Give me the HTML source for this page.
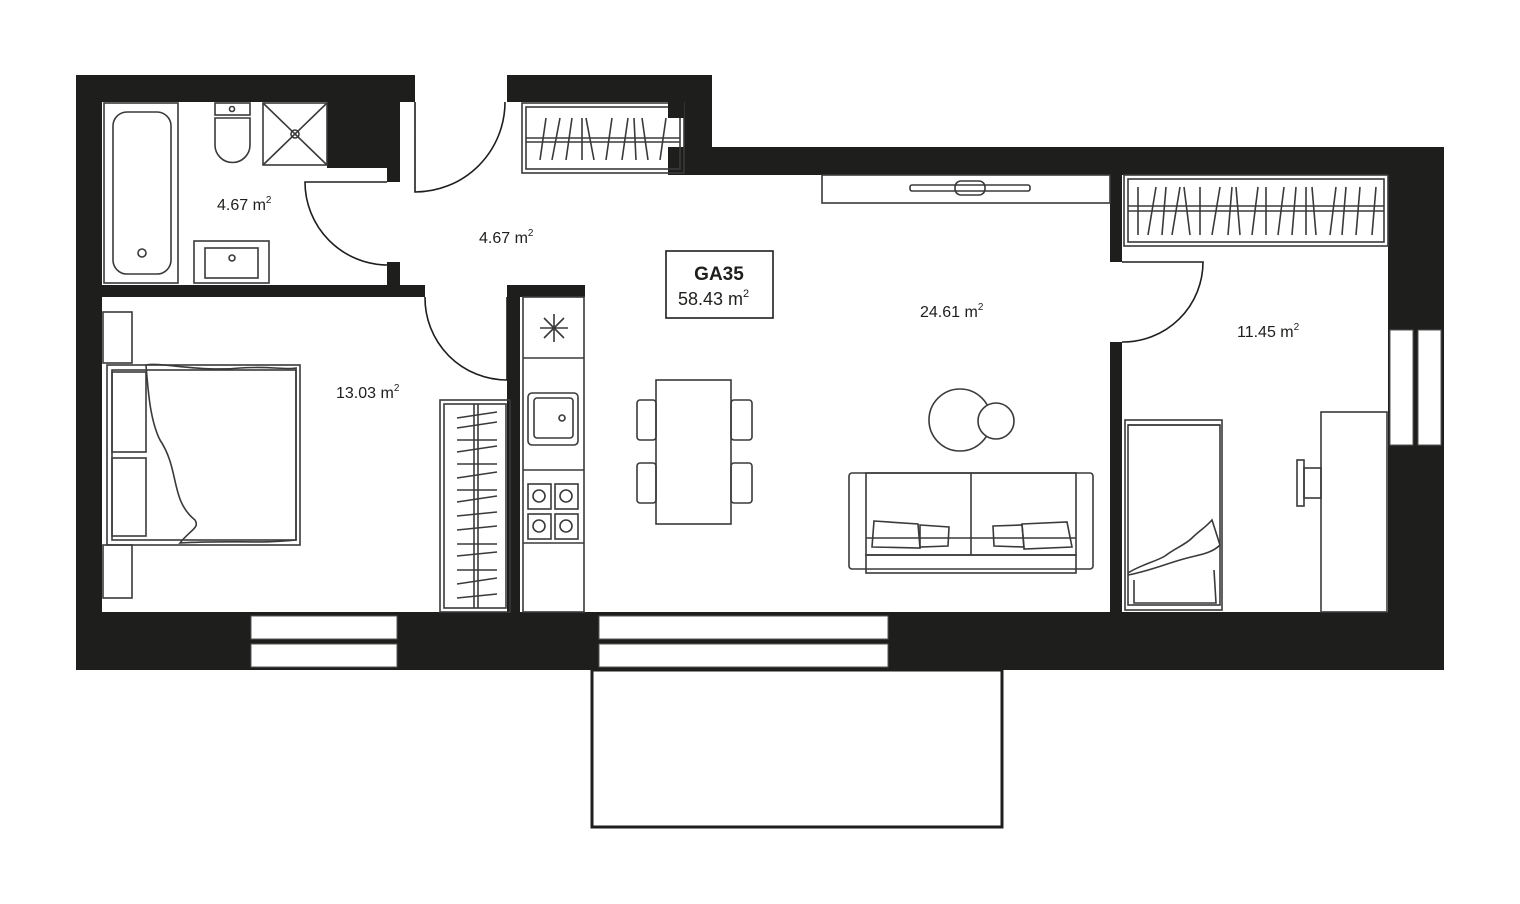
<!DOCTYPE html>
<html><head><meta charset="utf-8"><style>
html,body{margin:0;padding:0;background:#fff;}
svg{display:block;}
text{font-family:"Liberation Sans",sans-serif;fill:#1e1e1c;}
</style></head><body>
<svg width="1520" height="904" viewBox="0 0 1520 904" xmlns="http://www.w3.org/2000/svg">
<rect width="1520" height="904" fill="#fff"/>
<g fill="#1e1e1c">
<rect x="76" y="75" width="339" height="27"/>
<rect x="76" y="75" width="26" height="595"/>
<rect x="327" y="100" width="60" height="68"/>
<rect x="387" y="100" width="13" height="82"/>
<rect x="387" y="262" width="13" height="25"/>
<rect x="100" y="285" width="325" height="12"/>
<rect x="507" y="75" width="205" height="27"/>
<rect x="684" y="75" width="28" height="100"/>
<rect x="668" y="147" width="776" height="28"/>
<rect x="1388" y="147" width="56" height="523"/>
<rect x="507" y="285" width="78" height="12"/>
<rect x="507" y="285" width="13" height="330"/>
<rect x="1110" y="173" width="12" height="89"/>
<rect x="1110" y="342" width="12" height="272"/>
<rect x="76" y="612" width="1368" height="58"/>
</g>
<g fill="#fff" stroke="#555" stroke-width="1">
<rect x="251" y="616" width="146" height="23"/>
<rect x="251" y="644" width="146" height="23"/>
<rect x="599" y="616" width="289" height="23"/>
<rect x="599" y="644" width="289" height="23"/>
<rect x="1390" y="330" width="23" height="115"/>
<rect x="1418" y="330" width="23" height="115"/>
</g>
<rect x="592" y="670" width="410" height="157" fill="none" stroke="#1e1e1c" stroke-width="3"/>
<g fill="none" stroke="#1e1e1c" stroke-width="1.6">
<path d="M415 102 V192 A90 90 0 0 0 505 102"/>
<path d="M387 182 H305 A83 83 0 0 0 387 265"/>
<path d="M507 297 V380 A82 82 0 0 1 425 297"/>
<path d="M1122 262 H1203 A80 80 0 0 1 1122 342"/>
</g>
<g fill="none" stroke="#3a3a3a" stroke-width="1.6">
<rect x="104" y="103" width="74" height="180"/>
<rect x="113" y="112" width="58" height="162" rx="14"/>
<circle cx="142" cy="253" r="4"/>
<rect x="215" y="103" width="35" height="12"/>
<circle cx="232" cy="109" r="2.5"/>
<path d="M215 118 H250 V145 A17 17 0 0 1 215 145 Z"/>
<rect x="263" y="103" width="64" height="62"/>
<path d="M263 103 L327 165 M327 103 L263 165"/>
<circle cx="295" cy="134" r="4"/>
<rect x="194" y="241" width="75" height="42"/>
<rect x="205" y="248" width="53" height="30"/>
<circle cx="232" cy="258" r="3"/>
<rect x="522" y="103" width="162" height="70"/>
<rect x="526" y="107" width="154" height="62"/>
<line x1="526" y1="138" x2="680" y2="138"/><line x1="526" y1="142" x2="680" y2="142"/>
<path d="M540 160 L546 118 M552 160 L560 118 M566 160 L572 118 M582 160 L582 118 M594 160 L586 118 M606 160 L612 118 M622 160 L628 118 M636 160 L634 118 M648 160 L642 118 M660 160 L666 118"/>
<rect x="822" y="175" width="288" height="28"/>
<rect x="910" y="185" width="120" height="6" rx="2"/>
<rect x="955" y="181" width="30" height="14" rx="6"/>
<rect x="1124" y="175" width="264" height="71"/>
<rect x="1128" y="179" width="256" height="63"/>
<line x1="1128" y1="206" x2="1384" y2="206"/><line x1="1128" y1="211" x2="1384" y2="211"/>
<path d="M1138 235 V187 M1148 235 L1156 187 M1162 235 L1166 187 M1172 235 L1180 187 M1190 235 L1184 187 M1200 235 V187 M1212 235 L1220 187 M1228 235 L1232 187 M1240 235 L1236 187 M1252 235 L1258 187 M1266 235 V187 M1278 235 L1284 187 M1292 235 L1296 187 M1306 235 V187 M1316 235 L1312 187 M1330 235 L1336 187 M1342 235 L1346 187 M1356 235 L1360 187 M1372 235 L1376 187"/>
<rect x="440" y="400" width="70" height="212"/>
<rect x="444" y="404" width="62" height="204"/>
<line x1="474" y1="404" x2="474" y2="608"/><line x1="478" y1="404" x2="478" y2="608"/>
<path d="M457 418 L497 412 M457 428 L497 422 M457 440 L497 440 M457 452 L497 446 M457 464 L497 464 M457 478 L497 472 M457 490 L497 490 M457 502 L497 496 M457 516 L497 512 M457 530 L497 526 M457 544 L497 544 M457 556 L497 552 M457 570 L497 570 M457 584 L497 578 M457 598 L497 594"/>
<rect x="103" y="312" width="29" height="51"/>
<rect x="103" y="545" width="29" height="53"/>
<rect x="107" y="365" width="193" height="180"/>
<rect x="112" y="370" width="184" height="170"/>
<rect x="112" y="372" width="34" height="80"/>
<rect x="112" y="458" width="34" height="78"/>
<path d="M146 365 C160 362 200 372 240 368 C270 366 285 370 296 368 V540 C260 544 230 540 180 543 C190 530 200 528 195 520 C170 500 180 470 160 440 C150 420 148 390 146 365 Z"/>
<rect x="523" y="297" width="61" height="315"/>
<line x1="523" y1="358" x2="584" y2="358"/>
<line x1="523" y1="470" x2="584" y2="470"/>
<line x1="523" y1="543" x2="584" y2="543"/>
<path d="M554 314 V342 M540 328 H568 M544 318 L564 338 M564 318 L544 338"/>
<rect x="528" y="393" width="50" height="52" rx="4"/>
<rect x="534" y="398" width="39" height="40" rx="3"/>
<circle cx="562" cy="418" r="3"/>
<rect x="528" y="484" width="23" height="25"/><rect x="555" y="484" width="23" height="25"/>
<rect x="528" y="514" width="23" height="25"/><rect x="555" y="514" width="23" height="25"/>
<circle cx="539" cy="496" r="6"/><circle cx="566" cy="496" r="6"/>
<circle cx="539" cy="526" r="6"/><circle cx="566" cy="526" r="6"/>
<rect x="656" y="380" width="75" height="144"/>
<rect x="637" y="400" width="19" height="40" rx="3"/>
<rect x="637" y="463" width="19" height="40" rx="3"/>
<rect x="731" y="400" width="21" height="40" rx="3"/>
<rect x="731" y="463" width="21" height="40" rx="3"/>
<circle cx="960" cy="420" r="31"/>
<circle cx="996" cy="421" r="18" fill="#fff"/>
<rect x="849" y="473" width="244" height="96" rx="3"/>
<rect x="866" y="473" width="210" height="82"/>
<line x1="971" y1="473" x2="971" y2="555"/>
<line x1="866" y1="538" x2="1076" y2="538"/>
<rect x="866" y="555" width="210" height="18"/>
<path d="M874 521 L918 524 L920 548 L872 547 Z"/>
<path d="M920 525 L949 527 L948 546 L920 547 Z"/>
<path d="M993 526 L1022 525 L1024 547 L994 546 Z"/>
<path d="M1022 524 L1067 522 L1072 547 L1024 549 Z"/>
<rect x="1125" y="420" width="97" height="190"/>
<rect x="1128" y="425" width="92" height="180"/>
<path d="M1128 425 H1220"/>
<path d="M1128 573 C1140 565 1155 562 1165 556 C1175 548 1185 545 1192 538 C1200 530 1205 528 1212 520 L1220 545 C1210 555 1195 555 1180 560 C1160 566 1145 572 1128 575"/>
<path d="M1134 580 L1134 603 L1216 603 L1214 570"/>
<rect x="1321" y="412" width="66" height="200"/>
<rect x="1297" y="460" width="7" height="46"/>
<rect x="1304" y="468" width="17" height="30"/>
</g>
<rect x="668" y="100" width="16" height="18" fill="#1e1e1c"/>
<text x="217" y="210" font-size="16">4.67 m<tspan font-size="10" dy="-7">2</tspan></text>
<text x="479" y="243" font-size="16">4.67 m<tspan font-size="10" dy="-7">2</tspan></text>
<text x="336" y="398" font-size="16">13.03 m<tspan font-size="10" dy="-7">2</tspan></text>
<text x="920" y="317" font-size="16">24.61 m<tspan font-size="10" dy="-7">2</tspan></text>
<text x="1237" y="337" font-size="16">11.45 m<tspan font-size="10" dy="-7">2</tspan></text>
<rect x="666" y="251" width="107" height="67" fill="#fff" stroke="#1e1e1c" stroke-width="1.6"/>
<text x="719" y="280" font-size="19" font-weight="bold" text-anchor="middle">GA35</text>
<text x="678" y="305" font-size="18">58.43 m<tspan font-size="11" dy="-8">2</tspan></text>
</svg>
</body></html>
